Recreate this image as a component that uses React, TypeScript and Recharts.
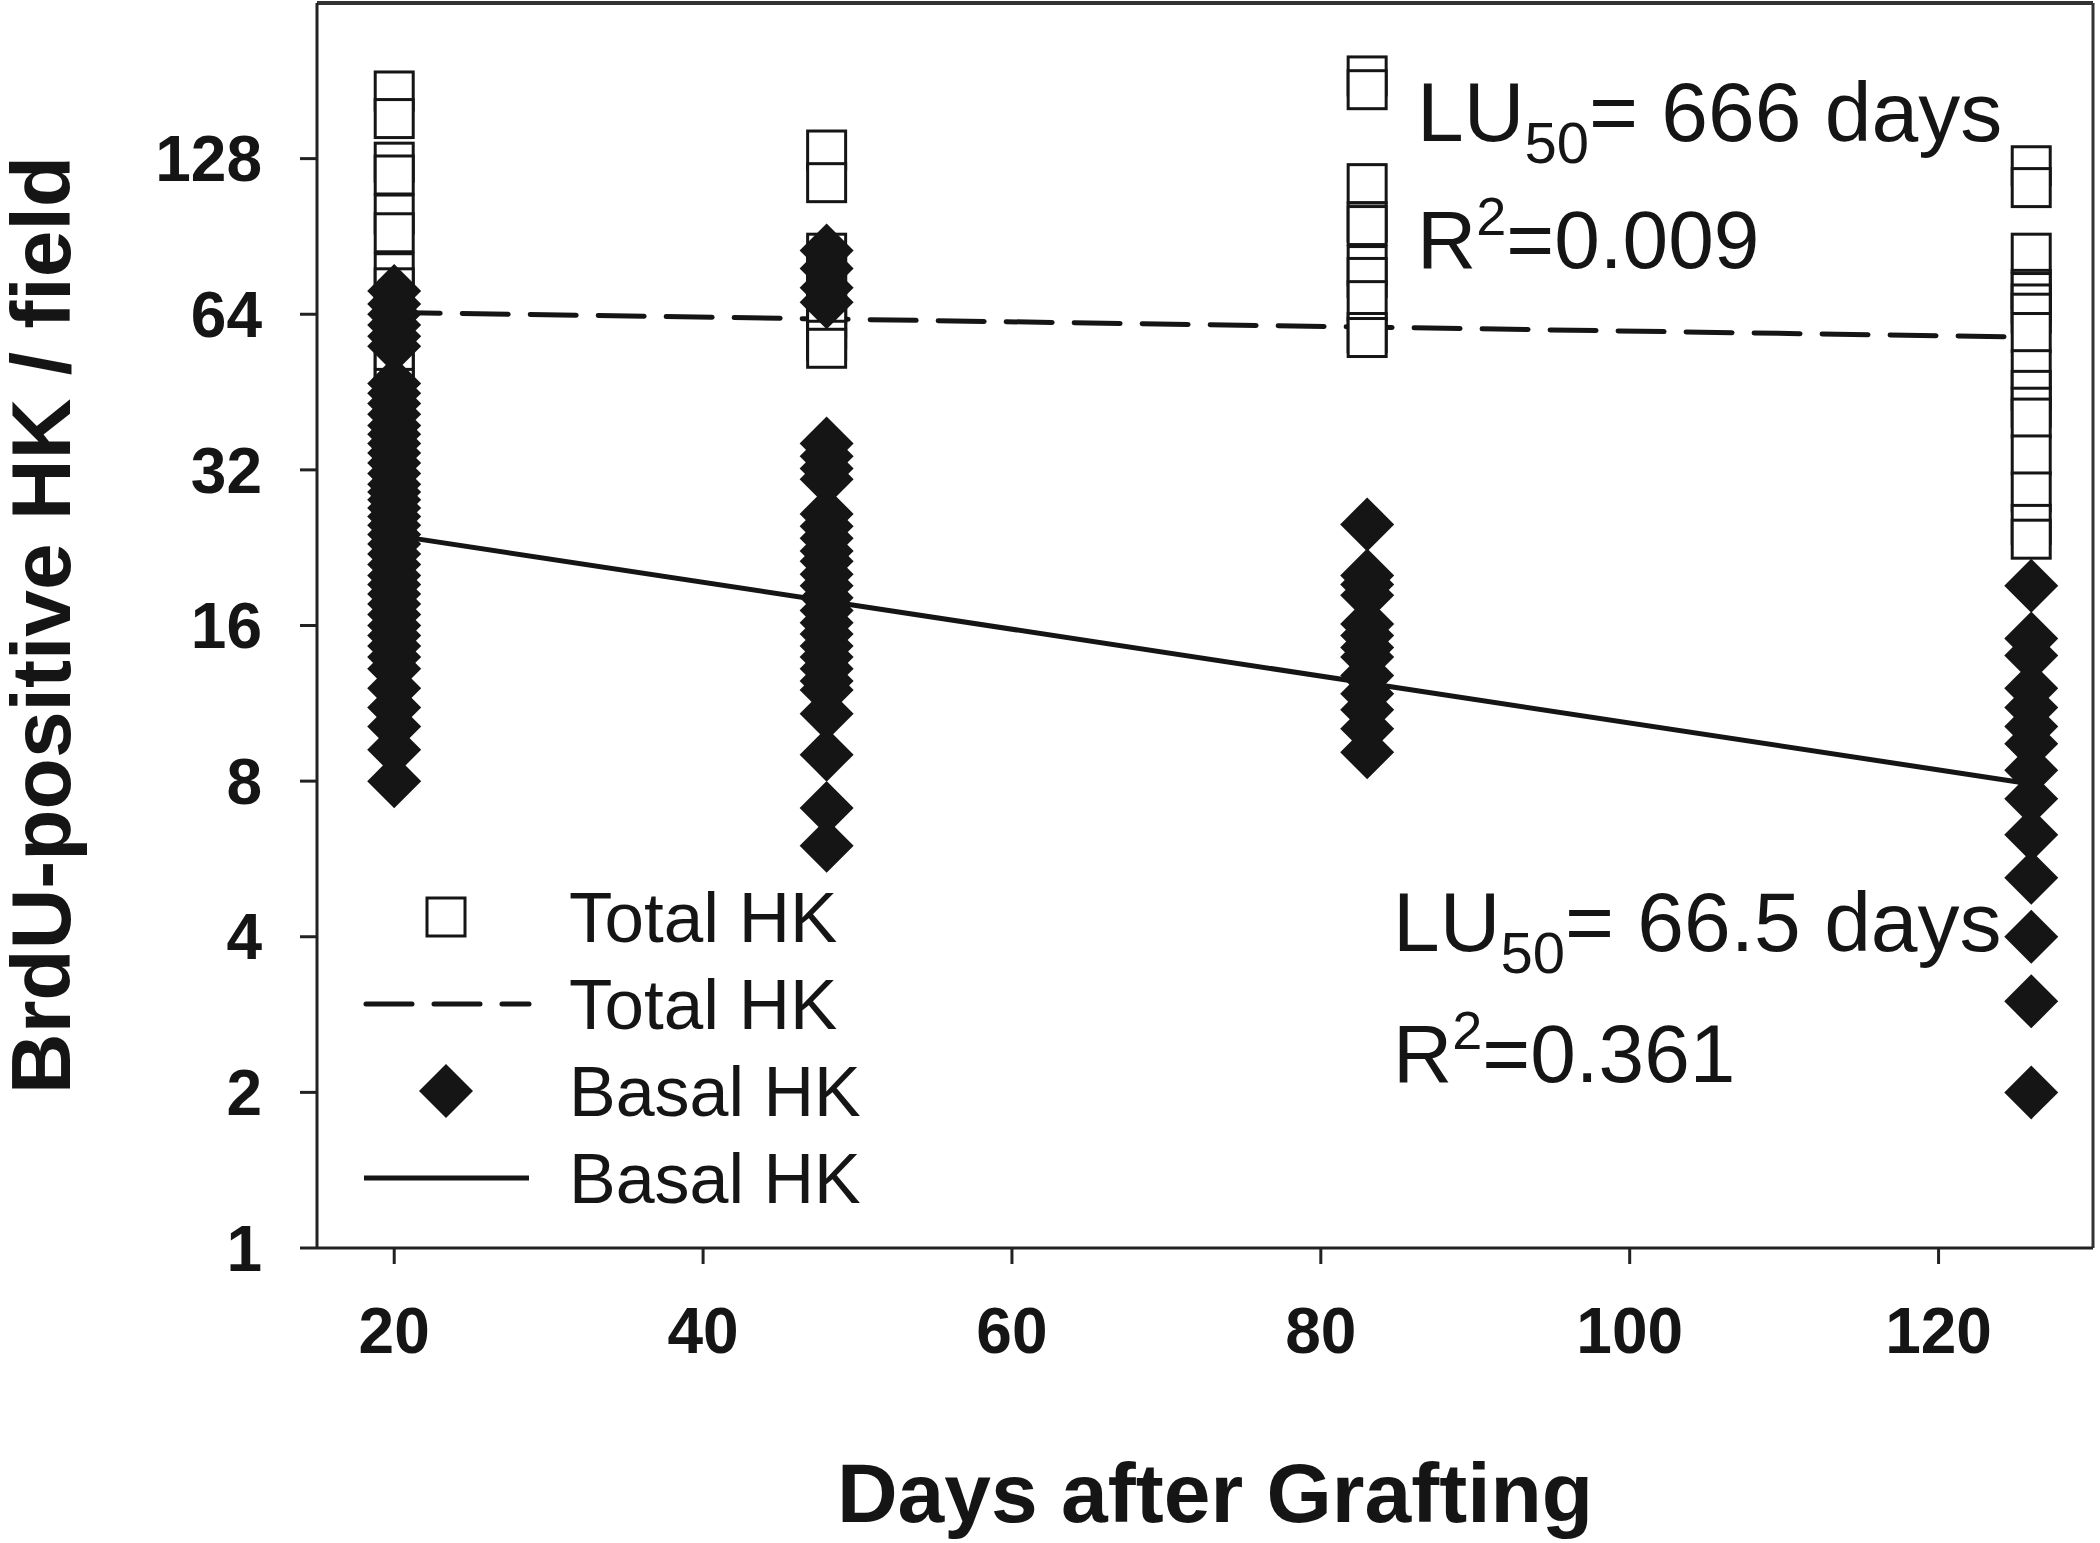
import React from 'react';
import { ScatterChart, Scatter, XAxis, YAxis, ReferenceLine, Customized } from 'recharts';

// sampling days (x)
const days = [20, 48, 83, 126];

// Total HK per field (top to bottom)
const totalHK20 = [173, 153, 126, 119, 100, 92, 77, 72, 66, 60, 55, 50, 46, 42];
const totalHK48 = [133, 115, 84, 79, 72, 67, 63, 60, 57, 55];
const totalHK83 = [185, 174, 114.5, 96.5, 95, 79.5, 75.4, 68, 59, 57.7];
const totalHK126 = [124, 112.5, 84, 71.5, 70.5, 67, 64.3, 59, 50, 45.6, 42.3, 40.3, 34.2, 29, 25.1, 23.5];

// Basal HK per field
const basalHK20 = [
  71, 67, 64, 61, 58, 55.5, 47, 45, 43, 41, 39, 37.5, 36, 34.5, 33, 31.5, 30, 29, 28, 27, 26, 25, 24, 23,
  22, 21, 20, 19.2, 18.4, 17.6, 16.8, 16, 15.3, 14.6, 13.9, 13.2, 12.1, 11.1, 10.2, 9.2, 8,
];
const basalHK48 = [
  85, 78.5, 72, 67.5, 36, 34, 32.2, 30.7, 26.3, 24.9, 23.6, 22.3, 21.3, 20.1, 19.1, 18.1, 17.1, 16.2, 15.4,
  14.6, 13.9, 13.2, 12.5, 12, 10.8, 9, 7.1, 6,
];
const basalHK83 = [25.1, 20, 19.2, 18.3, 16.1, 15.3, 14.5, 13.9, 12.8, 11.8, 11, 10.1, 9.1];
const basalHK126 = [19.1, 15.1, 14, 12.1, 11.1, 10.2, 9.45, 8.4, 7.4, 6.3, 5.2, 4, 3, 2];

// exponential fits (straight on the log axis)
const fitDays = [20, 126];
const totalFit = [64.5, 57.8];
const basalFit = [23.9, 7.9];

const xTicks = [20, 40, 60, 80, 100, 120];
const yTicks = [1, 2, 4, 8, 16, 32, 64, 128];

const toPoints = (xs: number[], ys: number[]) => ys.map((y, i) => ({ x: xs[i], y }));
const column = (day: number, values: number[]) => values.map((y) => ({ x: day, y }));

const totalPoints = [
  ...column(days[0], totalHK20),
  ...column(days[1], totalHK48),
  ...column(days[2], totalHK83),
  ...column(days[3], totalHK126),
];
const basalPoints = [
  ...column(days[0], basalHK20),
  ...column(days[1], basalHK48),
  ...column(days[2], basalHK83),
  ...column(days[3], basalHK126),
];
const totalFitPoints = toPoints(fitDays, totalFit);
const basalFitPoints = toPoints(fitDays, basalFit);

const INK = '#151515';
const SQ = 38;
const DR = 27;

const OpenSquare = (props: any) => {
  const { cx, cy } = props;
  if (cx == null || cy == null) return <g />;
  return <rect x={cx - SQ / 2} y={cy - SQ / 2} width={SQ} height={SQ} fill="#fff" stroke={INK} strokeWidth={3} />;
};

const Diamond = (props: any) => {
  const { cx, cy } = props;
  if (cx == null || cy == null) return <g />;
  return <path d={`M${cx},${cy - DR}L${cx + DR},${cy}L${cx},${cy + DR}L${cx - DR},${cy}Z`} fill={INK} />;
};

const NoDot = () => <g />;

const Overlay = () => (
  <g fill={INK}>
    {/* axis titles */}
    <text x={70} y={625} transform="rotate(-90 70 625)" textAnchor="middle" fontSize={84} fontWeight={700}>
      BrdU-positive HK / field
    </text>
    <text x={1215} y={1522} textAnchor="middle" fontSize={84} fontWeight={700}>
      Days after Grafting
    </text>

    {/* fit annotations */}
    <text x={1417} y={141} fontSize={84}>
      LU<tspan fontSize={58} dy={22}>50</tspan>
      <tspan dy={-22}>= 666 days</tspan>
    </text>
    <text x={1417} y={268} fontSize={82}>
      R<tspan fontSize={54} dy={-33}>2</tspan>
      <tspan dy={33}>=0.009</tspan>
    </text>
    <text x={1393} y={951} fontSize={84}>
      LU<tspan fontSize={58} dy={22}>50</tspan>
      <tspan dy={-22}>= 66.5 days</tspan>
    </text>
    <text x={1393} y={1082} fontSize={82}>
      R<tspan fontSize={54} dy={-33}>2</tspan>
      <tspan dy={33}>=0.361</tspan>
    </text>

    {/* legend */}
    <rect x={446 - SQ / 2} y={917 - SQ / 2} width={SQ} height={SQ} fill="#fff" stroke={INK} strokeWidth={3} />
    <text x={569} y={942} fontSize={71}>Total HK</text>
    <line x1={366} y1={1004} x2={529} y2={1004} stroke={INK} strokeWidth={5} strokeDasharray="46 22" strokeLinecap="round" />
    <text x={569} y={1029} fontSize={71}>Total HK</text>
    <path d={`M446,${1091 - DR}L${446 + DR},1091L446,${1091 + DR}L${446 - DR},1091Z`} fill={INK} />
    <text x={569} y={1116} fontSize={70}>Basal HK</text>
    <line x1={364} y1={1178} x2={529} y2={1178} stroke={INK} strokeWidth={5} />
    <text x={569} y={1203} fontSize={70}>Basal HK</text>
  </g>
);

export default function App() {
  return (
    <div style={{ position: 'absolute', left: 0, top: 0, background: '#fff' }}>
      <ScatterChart
        width={2100}
        height={1543}
        margin={{ top: 3, right: 7, left: 0, bottom: 0 }}
        style={{ fontFamily: '"Liberation Sans", Arial, sans-serif' }}
      >
        <XAxis
          type="number"
          dataKey="x"
          domain={[15, 130]}
          ticks={xTicks}
          allowDataOverflow
          height={295}
          tickSize={16}
          tickMargin={44}
          axisLine={{ stroke: '#222', strokeWidth: 3 }}
          tickLine={{ stroke: '#222', strokeWidth: 3 }}
          tick={{ fill: INK, fontSize: 64, fontWeight: 700 }}
        />
        <YAxis
          type="number"
          dataKey="y"
          scale="log"
          domain={[1, 256]}
          ticks={yTicks}
          allowDataOverflow
          width={317}
          tickSize={17}
          tickMargin={38}
          axisLine={{ stroke: '#222', strokeWidth: 3 }}
          tickLine={{ stroke: '#222', strokeWidth: 3 }}
          tick={{ fill: INK, fontSize: 64, fontWeight: 700 }}
        />
        <ReferenceLine y={256} stroke="#333" strokeWidth={4} />
        <ReferenceLine x={130} stroke="#333" strokeWidth={3} />
        <Scatter
          data={totalFitPoints}
          line={{ stroke: INK, strokeWidth: 5, strokeDasharray: '46 22', strokeLinecap: 'round' }}
          shape={NoDot}
          isAnimationActive={false}
        />
        <Scatter
          data={basalFitPoints}
          line={{ stroke: INK, strokeWidth: 5 }}
          shape={NoDot}
          isAnimationActive={false}
        />
        <Scatter data={totalPoints} shape={OpenSquare} isAnimationActive={false} />
        <Scatter data={basalPoints} shape={Diamond} isAnimationActive={false} />
        <Customized component={Overlay} />
      </ScatterChart>
    </div>
  );
}
